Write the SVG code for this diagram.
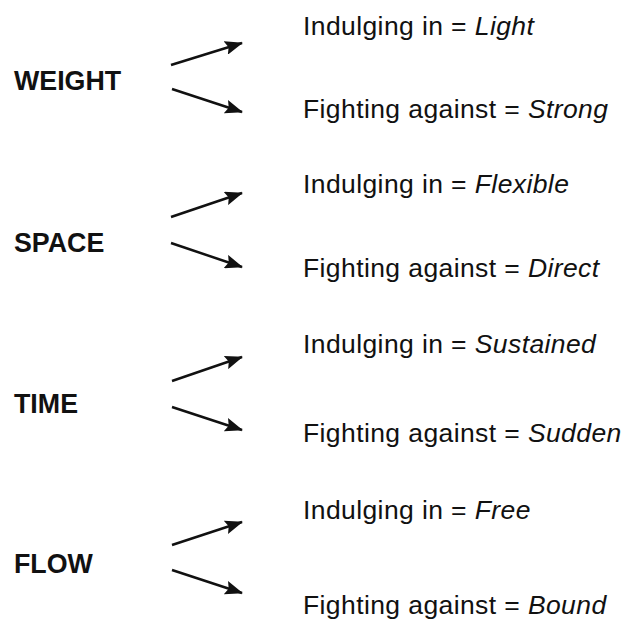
<svg xmlns="http://www.w3.org/2000/svg" width="628" height="619" viewBox="0 0 628 619">
<style>
.lbl{font-family:"Liberation Sans",Arial,sans-serif;font-weight:bold;font-size:26.8px;fill:#111}
.t{font-family:"Liberation Sans",Arial,sans-serif;font-size:26.5px;letter-spacing:0.4px;fill:#111}
.i{font-style:italic}
.c line{stroke:#111;stroke-width:2.5;fill:none;marker-end:url(#ah)}
</style>
<defs>
<marker id="ah" markerUnits="userSpaceOnUse" markerWidth="18" markerHeight="14" refX="17" refY="7" orient="auto" viewBox="0 0 18 14">
<path d="M0,0 L18,7 L0,14 L3,7 z" fill="#111"/>
</marker>
</defs>
<rect width="628" height="619" fill="#fff"/>
<g id="weight"><text class="lbl" x="14" y="90">WEIGHT</text></g>
<g id="space"><text class="lbl" x="14" y="252">SPACE</text></g>
<g id="time"><text class="lbl" x="14" y="413">TIME</text></g>
<g id="flow"><text class="lbl" x="14" y="573">FLOW</text></g>
<g id="weight-light"><text class="t" x="303" y="35">Indulging in = <tspan class="i">Light</tspan></text></g>
<g id="weight-strong"><text class="t" x="303" y="118">Fighting against = <tspan class="i">Strong</tspan></text></g>
<g id="space-flexible"><text class="t" x="303" y="193">Indulging in = <tspan class="i">Flexible</tspan></text></g>
<g id="space-direct"><text class="t" x="303" y="277">Fighting against = <tspan class="i">Direct</tspan></text></g>
<g id="time-sustained"><text class="t" x="303" y="353">Indulging in = <tspan class="i">Sustained</tspan></text></g>
<g id="time-sudden"><text class="t" x="303" y="442">Fighting against = <tspan class="i">Sudden</tspan></text></g>
<g id="flow-free"><text class="t" x="303" y="519">Indulging in = <tspan class="i">Free</tspan></text></g>
<g id="flow-bound"><text class="t" x="303" y="614">Fighting against = <tspan class="i">Bound</tspan></text></g>
<g id="connectors" class="c">
<line x1="171" y1="65" x2="242" y2="43"/>
<line x1="172" y1="89" x2="242" y2="112"/>
<line x1="171" y1="217" x2="242" y2="193"/>
<line x1="171" y1="243" x2="242" y2="267"/>
<line x1="172" y1="381" x2="242" y2="357"/>
<line x1="172" y1="407" x2="242" y2="430"/>
<line x1="172" y1="545" x2="242" y2="522"/>
<line x1="172" y1="570" x2="242" y2="593"/>
</g>
</svg>
